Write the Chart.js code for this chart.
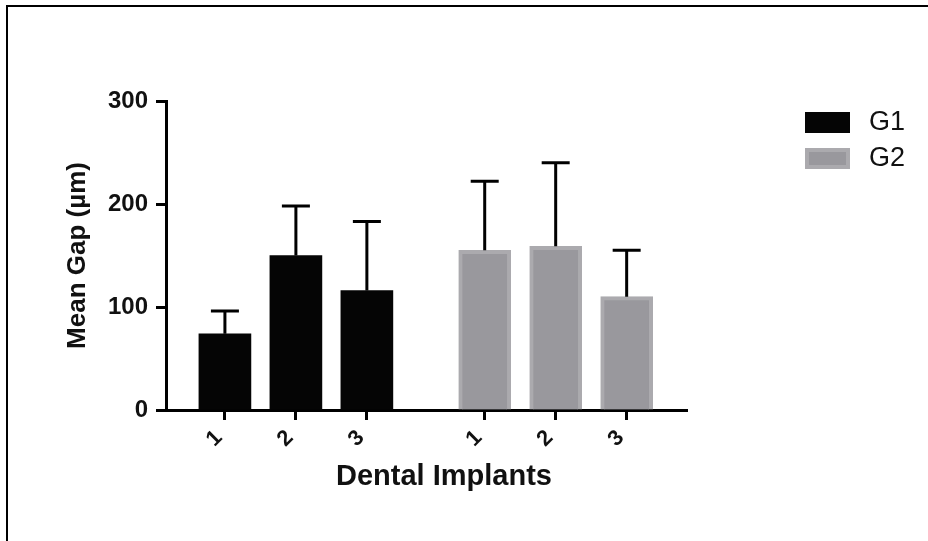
<!DOCTYPE html>
<html>
<head>
<meta charset="utf-8">
<script src="https://cdn.jsdelivr.net/npm/chart.js@4.4.0/dist/chart.umd.min.js"></script>
<style>
  html, body { margin: 0; padding: 0; background: #fff; }
  #wrap { position: relative; width: 928px; height: 541px; overflow: hidden; }
  #frame { position: absolute; left: 6px; top: 5px; right: -4px; bottom: -4px;
           border-top: 2px solid #000; border-left: 2px solid #000; }
  canvas { position: absolute; left: 0; top: 0; }
</style>
</head>
<body>
<div id="wrap">
  <div id="frame"></div>
  <canvas id="chart" width="928" height="541"></canvas>
</div>
<script>
// values
const seriesNames = ['G1', 'G2'];
const implantLabels = ['1', '2', '3', '1', '2', '3'];
const g1Slots = [1, 2, 3];
const g2Slots = [4.66, 5.66, 6.66];
const g1Mean = [74, 150, 116];
const g1SD = [22, 48, 67];
const g2Mean = [155, 159, 110];
const g2SD = [67, 81, 45];
const yTicks = [0, 100, 200, 300];
const xTitle = 'Dental Implants';
const yTitle = 'Mean Gap (µm)';

const FONT = '"Liberation Sans", Arial, Helvetica, sans-serif';
const sds = [g1SD, g2SD];

// upper error bars only
const errorBars = {
  id: 'errorBars',
  afterDatasetsDraw(chart) {
    const { ctx } = chart;
    const y = chart.scales.y;
    ctx.save();
    ctx.strokeStyle = '#000';
    ctx.lineWidth = 3;
    chart.data.datasets.forEach((ds, i) => {
      chart.getDatasetMeta(i).data.forEach((bar, j) => {
        const top = y.getPixelForValue(ds.data[j].y + sds[i][j]);
        ctx.beginPath();
        ctx.moveTo(bar.x, bar.y);
        ctx.lineTo(bar.x, top);
        ctx.moveTo(bar.x - 14, top);
        ctx.lineTo(bar.x + 14, top);
        ctx.stroke();
      });
    });
    ctx.restore();
  }
};

// legend on the right + x axis title
const extras = {
  id: 'extras',
  afterDraw(chart) {
    const { ctx } = chart;
    ctx.save();
    chart.data.datasets.forEach((ds, i) => {
      const top = 112 + i * 36;
      ctx.fillStyle = ds.borderColor;
      ctx.fillRect(805, top, 45, 21);
      ctx.fillStyle = ds.backgroundColor;
      ctx.fillRect(809, top + 4, 37, 13);
      ctx.fillStyle = '#111';
      ctx.font = '27px ' + FONT;
      ctx.textBaseline = 'middle';
      ctx.textAlign = 'left';
      ctx.fillText(ds.label, 869, top + 11);
    });
    ctx.fillStyle = '#111';
    ctx.font = 'bold 29px ' + FONT;
    ctx.textAlign = 'center';
    ctx.textBaseline = 'middle';
    ctx.fillText(xTitle, 444, 477);
    ctx.restore();
  }
};

new Chart(document.getElementById('chart'), {
  type: 'bar',
  data: {
    datasets: [
      {
        label: seriesNames[0],
        data: g1Slots.map((x, i) => ({ x, y: g1Mean[i] })),
        backgroundColor: '#050505',
        borderColor: '#050505',
        borderWidth: 0,
        grouped: false,
        barThickness: 52
      },
      {
        label: seriesNames[1],
        data: g2Slots.map((x, i) => ({ x, y: g2Mean[i] })),
        backgroundColor: '#99989d',
        borderColor: '#abaaae',
        borderWidth: 4,
        grouped: false,
        barThickness: 52
      }
    ]
  },
  options: {
    responsive: false,
    animation: false,
    layout: { padding: { top: 101, right: 241, bottom: 0, left: 0 } },
    plugins: {
      legend: { display: false },
      tooltip: { enabled: false }
    },
    scales: {
      x: {
        type: 'linear',
        min: 0.17,
        max: 7.51,
        offset: false,
        grid: { drawOnChartArea: false, offset: false, tickLength: 10, tickWidth: 3, tickColor: '#000' },
        border: { width: 3, color: '#000' },
        afterBuildTicks: (s) => { s.ticks = g1Slots.concat(g2Slots).map(v => ({ value: v })); },
        afterFit: (s) => { s.height = 131; },
        ticks: {
          autoSkip: false,
          minRotation: 45,
          maxRotation: 45,
          padding: 5,
          labelOffset: -6,
          color: '#111',
          font: { family: FONT, size: 22, weight: 'bold' },
          callback: (v, i) => implantLabels[i]
        }
      },
      y: {
        min: 0,
        max: 300,
        grid: { drawOnChartArea: false, tickLength: 10, tickWidth: 3, tickColor: '#000' },
        border: { width: 3, color: '#000' },
        afterBuildTicks: (s) => { s.ticks = yTicks.map(v => ({ value: v })); },
        afterFit: (s) => { s.width = 166; },
        ticks: {
          padding: 8,
          color: '#111',
          font: { family: FONT, size: 24, weight: 'bold' }
        },
        title: {
          display: true,
          text: yTitle,
          color: '#111',
          font: { family: FONT, size: 26, weight: 'bold' },
          padding: { top: 62, bottom: 0 }
        }
      }
    }
  },
  plugins: [errorBars, extras]
});
</script>
</body>
</html>
